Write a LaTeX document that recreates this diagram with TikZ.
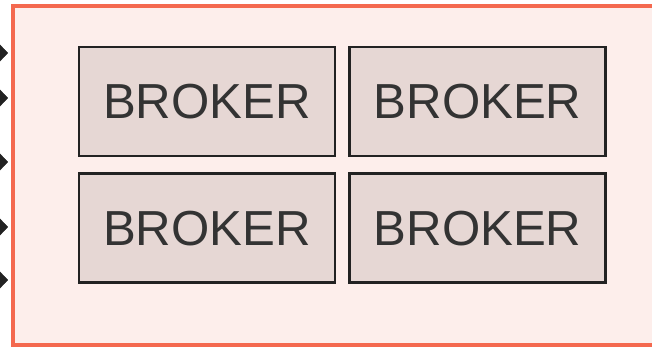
\documentclass[tikz,border=0pt]{standalone}
\usepackage{fontspec}
\setmainfont{Liberation Sans}
\usetikzlibrary{positioning,arrows.meta}
\definecolor{KFRed}{HTML}{F4694F}
\definecolor{KFPink}{HTML}{FDEEEB}
\definecolor{KFBox}{HTML}{E6D7D4}
\definecolor{KFInk}{HTML}{222222}
\definecolor{KFText}{HTML}{333333}

\begin{document}
\begin{tikzpicture}[x=0.03cm,y=0.03cm,
  broker/.style={draw=KFInk,fill=KFBox,line width=2.2pt,minimum width=7.68cm,
    minimum height=3.27cm,inner sep=0pt,text=KFText,font=\fontsize{42}{42}\selectfont},
  feed/.style={-{Triangle[length=0.36cm,width=0.75cm]},KFInk,line width=0.4pt,shorten >=0.09cm}]
\path[use as bounding box] (0,0) rectangle (652,349);
\clip (0,0) rectangle (652,349);
\node[draw=KFRed,fill=KFPink,line width=3.4pt,minimum width=19.41cm,minimum height=10.17cm] (cluster) at (336.5,173.5) {};
\node[broker] (b1) at (207,247.5) {BROKER};
\node[broker,right=0.36cm of b1] (b2) {BROKER};
\node[broker,below=0.45cm of b1] (b3) {BROKER};
\node[broker,right=0.36cm of b3] (b4) {BROKER};
\foreach \y [count=\i] in {296,251,187,122,69} {
  \coordinate (src\i) at (-30,\y);
  \draw[feed] (src\i) -- (src\i -| cluster.west);
}
\end{tikzpicture}
\end{document}
